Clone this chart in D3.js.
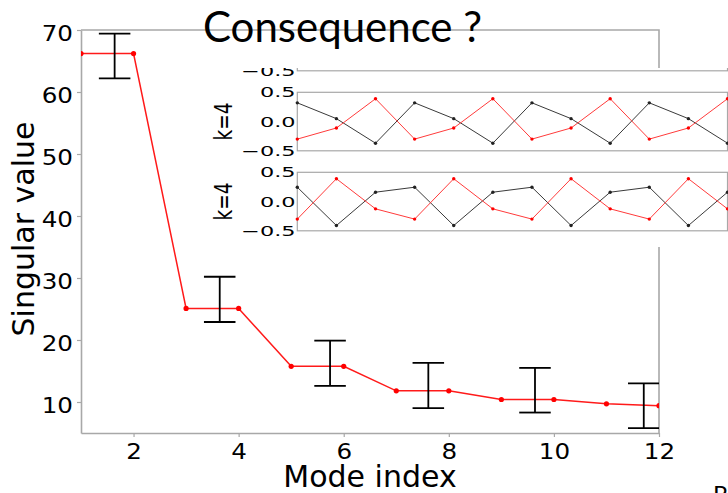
<!DOCTYPE html>
<html>
<head>
<meta charset="utf-8">
<script src="https://cdn.jsdelivr.net/npm/d3@7"></script>
<style>
  html, body { margin: 0; padding: 0; background: #fff; }
  svg { display: block; }
</style>
</head>
<body>
<svg id="chart" width="728" height="493"></svg>
<script>
// Singular values per mode
const modes = [1, 2, 3, 4, 5, 6, 7, 8, 9, 10, 11, 12];
const singularValues = [66.2, 66.2, 25.1, 25.1, 15.75, 15.75, 11.8, 11.8, 10.4, 10.4, 9.7, 9.4];

// Error bars: position, lower and upper bound
const errX = [1.64, 3.64, 5.74, 7.61, 9.64, 11.71];
const errLow = [62.2, 22.9, 12.6, 9.0, 8.3, 5.8];
const errHigh = [69.4, 30.2, 19.9, 16.3, 15.5, 13.0];

const xTicks = [2, 4, 6, 8, 10, 12];
const yTicks = [10, 20, 30, 40, 50, 60, 70];

// Mode shapes along the chain (k=4)
const site = [0, 1, 2, 3, 4, 5, 6, 7, 8, 9, 10, 11];
const modeA1 = [0.32, 0.05, -0.37, 0.32, 0.05, -0.37, 0.32, 0.05, -0.37, 0.32, 0.05, -0.37];
const modeA2 = [-0.30, -0.11, 0.39, -0.30, -0.11, 0.39, -0.30, -0.11, 0.39, -0.30, -0.11, 0.39];
const modeB1 = [0.245, -0.41, 0.16, 0.245, -0.41, 0.16, 0.245, -0.41, 0.16, 0.245, -0.41, 0.16];
const modeB2 = [-0.30, 0.39, -0.125, -0.30, 0.39, -0.125, -0.30, 0.39, -0.125, -0.30, 0.39, -0.125];
const insetTicks = [-0.5, 0.0, 0.5];

const svg = d3.select("#chart");
svg.append("rect").attr("width", 728).attr("height", 493).attr("fill", "#fff");

const spine = "#a8a8a8";
const frame = { left: 81, right: 659, top: 30, bottom: 433 };

const x = d3.scaleLinear().domain([1, 12]).range([frame.left, frame.right]);
const y = d3.scaleLinear().domain([5, 70]).range([frame.bottom, frame.top]);

const defs = svg.append("defs");
defs.append("clipPath").attr("id", "plotClip")
  .append("rect")
  .attr("x", frame.left).attr("y", frame.top)
  .attr("width", frame.right - frame.left).attr("height", frame.bottom - frame.top);

// Axes (tick labels drawn slightly wide)
const tickScaleX = 1.2;
const xAxis = svg.append("g")
  .attr("transform", `translate(0,${frame.bottom})`)
  .call(d3.axisBottom(x).tickValues(xTicks).tickSize(4).tickSizeOuter(0).tickPadding(6).tickFormat(d3.format("d")));
const yAxis = svg.append("g")
  .attr("transform", `translate(${frame.left},0)`)
  .call(d3.axisLeft(y).tickValues(yTicks).tickSize(4).tickSizeOuter(0).tickPadding(4).tickFormat(d3.format("d")));

[xAxis, yAxis].forEach(g => {
  g.select(".domain").attr("stroke", spine).attr("stroke-width", 1.6);
  g.selectAll(".tick line").attr("stroke", spine).attr("stroke-width", 1.2);
  g.selectAll(".tick text")
    .attr("fill", "#000")
    .style("font-family", "DejaVu Sans, sans-serif")
    .style("font-size", "20.5px");
});
yAxis.selectAll(".tick text")
  .attr("dy", "0.5em")
  .attr("x", -8 / tickScaleX)
  .attr("transform", `scale(${tickScaleX},1)`);
xAxis.selectAll(".tick text")
  .attr("dy", "0.78em")
  .attr("transform", `scale(${tickScaleX},1)`);

// Top and right frame
svg.append("path")
  .attr("d", `M${frame.left},${frame.top}H${frame.right}V${frame.bottom}`)
  .attr("fill", "none").attr("stroke", spine).attr("stroke-width", 1.6);

// Data
const plot = svg.append("g").attr("clip-path", "url(#plotClip)");
const line = d3.line().x((d, i) => x(modes[i])).y(d => y(d));
plot.append("path")
  .datum(singularValues)
  .attr("d", line)
  .attr("fill", "none").attr("stroke", "#ff1a1a").attr("stroke-width", 1.5);
plot.selectAll("circle.sv")
  .data(singularValues)
  .join("circle")
  .attr("class", "sv")
  .attr("cx", (d, i) => x(modes[i])).attr("cy", d => y(d)).attr("r", 2.6)
  .attr("fill", "#ff0000");

const capHalf = 0.3;
const eb = plot.selectAll("g.eb").data(errX).join("g").attr("class", "eb");
eb.append("line")
  .attr("x1", d => x(d)).attr("x2", d => x(d))
  .attr("y1", (d, i) => y(errLow[i])).attr("y2", (d, i) => y(errHigh[i]));
eb.append("line")
  .attr("x1", d => x(d - capHalf)).attr("x2", d => x(d + capHalf))
  .attr("y1", (d, i) => y(errLow[i])).attr("y2", (d, i) => y(errLow[i]));
eb.append("line")
  .attr("x1", d => x(d - capHalf)).attr("x2", d => x(d + capHalf))
  .attr("y1", (d, i) => y(errHigh[i])).attr("y2", (d, i) => y(errHigh[i]));
eb.selectAll("line").attr("stroke", "#000").attr("stroke-width", 1.8);

// Axis labels
svg.append("text")
  .attr("transform", "translate(33.5,229) rotate(-90)")
  .attr("text-anchor", "middle")
  .style("font-family", "DejaVu Sans, sans-serif").style("font-size", "30px")
  .text("Singular value");
svg.append("text")
  .attr("x", (frame.left + frame.right) / 2).attr("y", 487)
  .attr("text-anchor", "middle")
  .style("font-family", "DejaVu Sans, sans-serif").style("font-size", "30px")
  .text("Mode index");

// Title
svg.append("text")
  .attr("x", 203).attr("y", 42)
  .attr("textLength", 279).attr("lengthAdjust", "spacingAndGlyphs")
  .style("font-family", "Lato, 'Open Sans', sans-serif").style("font-size", "42px")
  .text("Consequence ?");

// Inset with mode shapes
defs.append("clipPath").attr("id", "insetClip")
  .append("rect").attr("x", 205).attr("y", 68).attr("width", 523).attr("height", 179);
const inset = svg.append("g").attr("clip-path", "url(#insetClip)");
inset.append("rect").attr("x", 205).attr("y", 68).attr("width", 523).attr("height", 179).attr("fill", "#fff");

const xi = d3.scaleLinear().domain([0, 11]).range([297.3, 727.5]);
const panelH = 58.5;
const panels = [
  { top: 12.3, series: [] },
  { top: 92.3, series: [modeA1, modeA2] },
  { top: 172.3, series: [modeB1, modeB2] }
];
const seriesStyle = [
  { stroke: "#3a3a3a", fill: "#222" },
  { stroke: "#ff3b3b", fill: "#ff0000" }
];

panels.forEach((p, pi) => {
  const yi = d3.scaleLinear().domain([-0.5, 0.5]).range([p.top + panelH, p.top]);
  const g = inset.append("g");
  g.append("rect")
    .attr("x", xi(0)).attr("y", p.top)
    .attr("width", xi(11) - xi(0)).attr("height", panelH)
    .attr("fill", "none").attr("stroke", spine).attr("stroke-width", 1.2);

  g.selectAll("text.tick")
    .data(insetTicks)
    .join("text")
    .attr("class", "tick")
    .attr("transform", d => `translate(${xi(0) - 1.8},${yi(d) + 5}) scale(1.6,1)`)
    .attr("text-anchor", "end")
    .style("font-family", "DejaVu Sans, sans-serif").style("font-size", "14px")
    .text(d3.format(".1f"));

  if (p.series.length) {
    g.append("text")
      .attr("transform", `translate(232,${p.top + panelH / 2}) scale(1.3,1) rotate(-90)`)
      .attr("text-anchor", "middle")
      .style("font-family", "DejaVu Sans, sans-serif").style("font-size", "18.5px")
      .text("k=4");
  }

  p.series.forEach((vals, si) => {
    const st = seriesStyle[si];
    g.append("path")
      .datum(vals)
      .attr("d", d3.line().x((d, i) => xi(site[i])).y(d => yi(d)))
      .attr("fill", "none").attr("stroke", st.stroke).attr("stroke-width", 1);
    g.selectAll(`circle.s${si}`)
      .data(vals)
      .join("circle")
      .attr("class", `s${si}`)
      .attr("cx", (d, i) => xi(site[i])).attr("cy", d => yi(d)).attr("r", 1.7)
      .attr("fill", st.fill);
  });
});

// Slide text peeking in at the corner
svg.append("text")
  .attr("x", 713).attr("y", 503)
  .style("font-family", "Lato, 'Open Sans', sans-serif").style("font-size", "24px")
  .text("R");
</script>
</body>
</html>
